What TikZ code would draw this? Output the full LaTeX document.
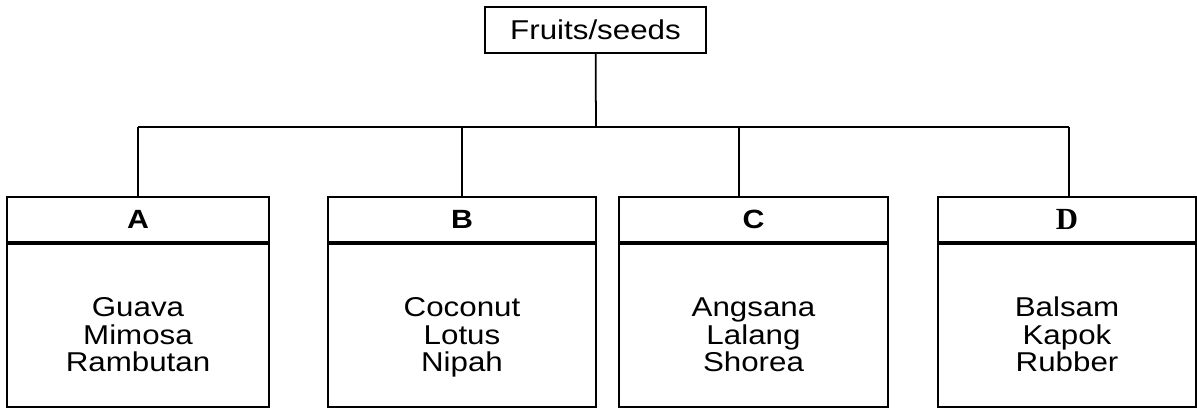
\documentclass[tikz,border=0pt]{standalone}
\usepackage{fontspec}
\setmainfont{Liberation Sans}[FakeStretch = 1.15]
\newfontfamily\serifhead{Liberation Serif}
\usetikzlibrary{positioning}

\tikzset{
  box/.style = {draw, line width = 1pt, inner sep = 0pt, align = center},
  headbox/.style = {box, minimum height = 0.9cm,
                    font = \fontsize{15}{16}\selectfont\bfseries},
  listbox/.style = {box, minimum height = 3.26cm,
                    font = \fontsize{15.5}{15.7}\selectfont},
  link/.style = {line width = 1pt}
}

\begin{document}
\begin{tikzpicture}[x = 0.02cm, y = -0.02cm]
\useasboundingbox (0, 0) rectangle (1197, 408);
\node[box, minimum width = 4.42cm, minimum height = 0.92cm,
      font = \fontsize{15.5}{16}\selectfont] (root) at (595.5, 30) {Fruits/seeds};
\coordinate (bus) at (596, 127);
\draw[link] (root) -- (bus);
% four groups: name/centre/width/stem offset/heading/members
\foreach \n/\cx/\w/\dx/\head/\body in {
    A/138/262/0/A/{Guava\\Mimosa\\Rambutan},
    B/462/268/0/B/{Coconut\\Lotus\\Nipah},
    C/753.5/269/-14.5/C/{Angsana\\Lalang\\Shorea},
    D/1067/258/2/{\serifhead\fontsize{17.5}{18}\selectfont D}/{Balsam\\Kapok\\Rubber}}
{
  \node[headbox, minimum width = \w*0.02cm] (hd\n) at (\cx, 219.5) {\head};
  \node[listbox, minimum width = \w*0.02cm, below = 0pt of hd\n,
        text height = 1.86cm, text depth = 0pt] (ls\n) {\body};
  \draw[link] ([xshift = \dx*0.02cm]hd\n.north)
        -- ([xshift = \dx*0.02cm]hd\n.north |- bus);
}
\draw[link] (hdA.north |- bus) -- ([xshift = 0.04cm]hdD.north |- bus);
\end{tikzpicture}
\end{document}
